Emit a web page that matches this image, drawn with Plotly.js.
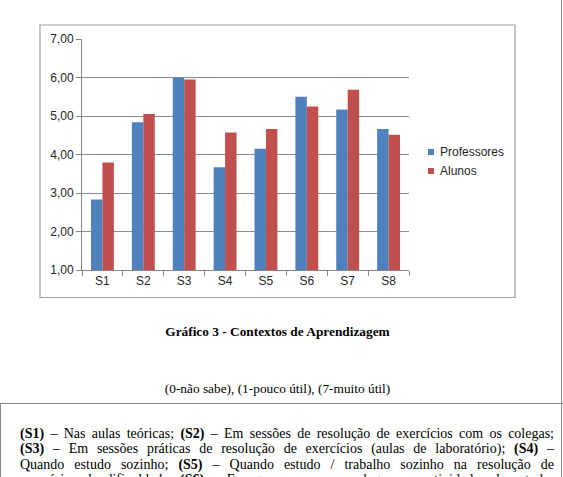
<!DOCTYPE html>
<html>
<head>
<meta charset="utf-8">
<script src="https://cdn.plot.ly/plotly-3.0.1.min.js"></script>
<style>
  html, body { margin: 0; padding: 0; background: #fff; }
  #page { position: relative; width: 563px; height: 477px; overflow: hidden; }
  #chart { position: absolute; left: 0; top: 0; width: 563px; height: 477px; }
  .cap { position: absolute; left: 0; width: 555px; text-align: center;
         font-family: "Liberation Serif", "Times New Roman", serif; font-size: 13.33px; color: #000; }
  .cap.bold { font-weight: bold; }
  .rule-h { position: absolute; left: 0; top: 403px; width: 563px; height: 0; border-top: 1.5px solid #8a8a8a; }
  .rule-r { position: absolute; left: 561px; top: 0; width: 0; height: 477px; border-left: 1.5px solid #8a8a8a; }
  .rule-l { position: absolute; left: 0; top: 403px; width: 0; height: 74px; border-left: 1.5px solid #8a8a8a; }
  .para { position: absolute; left: 20px; width: 534px; font-family: "Liberation Serif", "Times New Roman", serif;
          font-size: 14px; line-height: 15.3px; color: #000; }
  .para div { text-align: justify; text-align-last: justify; }
</style>
</head>
<body>
<div id="page">
  <div id="chart"></div>
  <div class="cap bold" style="top:324px;">Gráfico 3 - Contextos de Aprendizagem</div>
  <div class="cap" style="top:381px;">(0-não sabe), (1-pouco útil), (7-muito útil)</div>
  <div class="rule-h"></div>
  <div class="rule-r"></div>
  <div class="rule-l"></div>
  <div class="para" style="top:426px;">
    <div><b>(S1)</b> – Nas aulas teóricas; <b>(S2)</b> – Em sessões de resolução de exercícios com os colegas;</div>
    <div><b>(S3)</b> – Em sessões práticas de resolução de exercícios (aulas de laboratório); <b>(S4)</b> –</div>
    <div>Quando estudo sozinho; <b>(S5)</b> – Quando estudo / trabalho sozinho na resolução de</div>
    <div>exercícios de dificuldade; <b>(S6)</b> – Em grupo, com os colegas, em atividades de estudo;</div>
  </div>
</div>
<script>
// Learning contexts S1..S8, mean usefulness score (1-7 scale)
const categories = ["S1", "S2", "S3", "S4", "S5", "S6", "S7", "S8"];
const seriesNames = ["Professores", "Alunos"];
const professores = [2.83, 4.84, 6.00, 3.67, 4.15, 5.50, 5.17, 4.66];
const alunos = [3.79, 5.05, 5.95, 4.57, 4.66, 5.25, 5.68, 4.51];
const seriesColors = ["#4F81BD", "#C0504D"];
const yTicks = [1, 2, 3, 4, 5, 6, 7];

// plot-area geometry in page pixels, used to place the frame and legend
const PL = 82, PR = 409, PT = 39, PB = 270;
const px = x => (x - PL) / (PR - PL);
const py = y => (PB - y) / (PB - PT);

// bars rise from the axis floor; the plot area clips them at 1,00
const traces = [professores, alunos].map((vals, i) => ({
  type: "bar",
  name: seriesNames[i],
  x: categories,
  y: vals,
  marker: { color: seriesColors[i], line: { width: 0 } },
  showlegend: false,
  hoverinfo: "x+y"
}));

const shapes = [
  { type: "rect", xref: "paper", yref: "paper",
    x0: px(40), x1: px(515), y0: py(297.5), y1: py(25),
    line: { color: "#a0a0a0", width: 1.2 }, fillcolor: "rgba(0,0,0,0)", layer: "below" }
];
const annotations = [];
const legendY = [152, 171];
seriesNames.forEach((name, i) => {
  shapes.push({ type: "rect", xref: "paper", yref: "paper",
    x0: px(428), x1: px(434), y0: py(legendY[i] + 3), y1: py(legendY[i] - 3),
    line: { width: 0 }, fillcolor: seriesColors[i] });
  annotations.push({ xref: "paper", yref: "paper", x: px(438), y: py(legendY[i]),
    xanchor: "left", yanchor: "middle", showarrow: false, text: name,
    font: { family: "Liberation Sans, Arial, sans-serif", size: 12, color: "#262626" } });
});

const axisFont = { family: "Liberation Sans, Arial, sans-serif", size: 12, color: "#262626" };

const layout = {
  width: 563, height: 477,
  margin: { l: PL, r: 563 - PR, t: PT, b: 477 - PB, pad: 0 },
  paper_bgcolor: "rgba(0,0,0,0)", plot_bgcolor: "rgba(0,0,0,0)",
  separators: ",.",
  barmode: "group", bargap: 0.44, bargroupgap: 0,
  showlegend: false,
  xaxis: {
    type: "category", tickfont: axisFont,
    showline: true, linecolor: "#868686", linewidth: 1,
    ticks: "outside", tickson: "boundaries", ticklen: 5, tickcolor: "#868686",
    showgrid: false, zeroline: false, fixedrange: true
  },
  yaxis: {
    range: [1, 7], tickvals: yTicks, tickformat: ".2f",
    tickfont: axisFont,
    showline: true, linecolor: "#868686", linewidth: 1,
    ticks: "outside", ticklen: 5, tickcolor: "#868686",
    showgrid: true, gridcolor: "#8c8c8c", gridwidth: 1,
    zeroline: false, fixedrange: true
  },
  shapes: shapes,
  annotations: annotations
};

Plotly.newPlot("chart", traces, layout, { displayModeBar: false, staticPlot: true });
</script>
</body>
</html>
